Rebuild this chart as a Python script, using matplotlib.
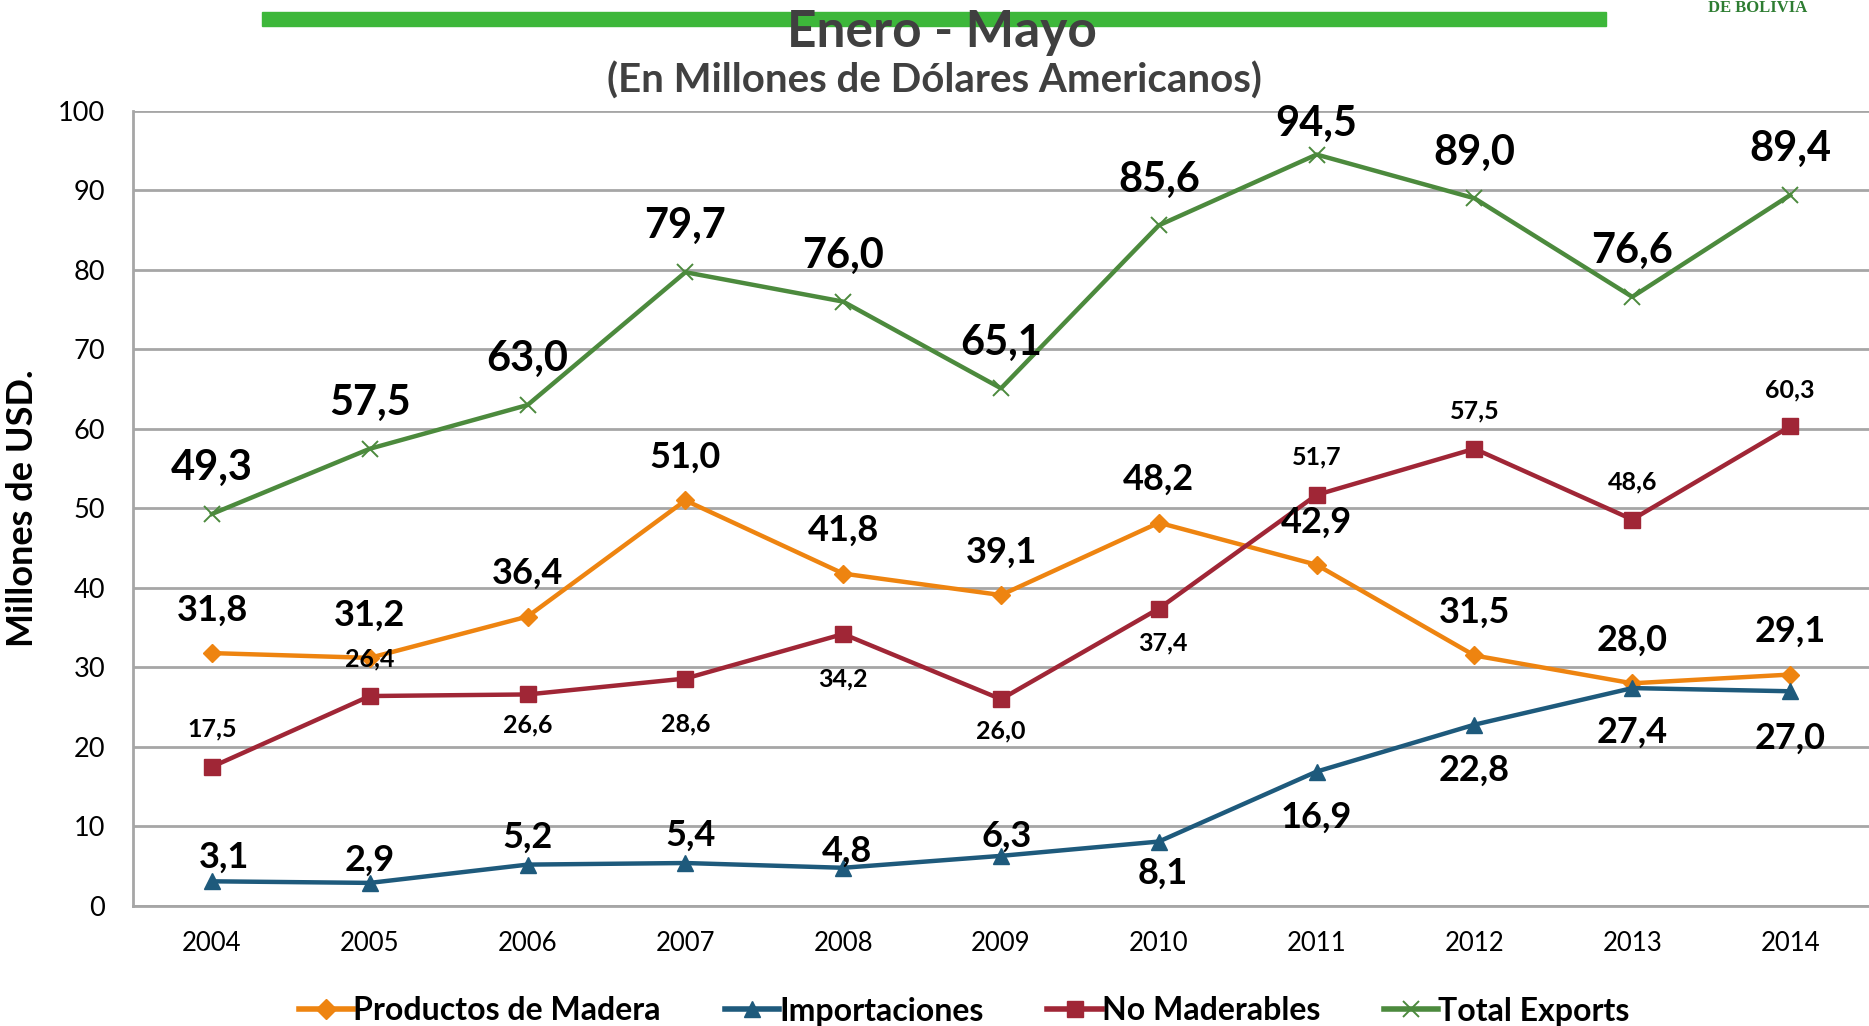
import matplotlib
matplotlib.use("Agg")
import matplotlib.pyplot as plt
from matplotlib.lines import Line2D

plt.rcParams['font.family'] = ['Lato', 'DejaVu Sans']

years = ['2004', '2005', '2006', '2007', '2008', '2009', '2010', '2011', '2012', '2013', '2014']
madera = [31.8, 31.2, 36.4, 51.0, 41.8, 39.1, 48.2, 42.9, 31.5, 28.0, 29.1]
importaciones = [3.1, 2.9, 5.2, 5.4, 4.8, 6.3, 8.1, 16.9, 22.8, 27.4, 27.0]
no_maderables = [17.5, 26.4, 26.6, 28.6, 34.2, 26.0, 37.4, 51.7, 57.5, 48.6, 60.3]
total = [49.3, 57.5, 63.0, 79.7, 76.0, 65.1, 85.6, 94.5, 89.0, 76.6, 89.4]

# label offsets (points) for each series
off_madera = [(0, 31)] * 11
off_imp = [(9, 17), (0, 16), (0, 20), (4, 20), (3, 12), (4, 14),
           (3, -23), (0, -33), (0, -33), (0, -32), (0, -34)]
off_nomad = [(0, 27), (0, 27), (0, -22), (0, -33), (0, -32), (0, -23),
             (3, -25), (0, 27), (0, 27), (0, 27), (0, 26)]
off_total = [(0, 33)] * 7 + [(0, 22)] + [(0, 33)] * 3

c_mad = '#EE8410'
c_imp = '#1E5A7C'
c_nom = '#A02636'
c_tot = '#4C8A3D'

fig = plt.figure(figsize=(18.69, 10.26), dpi=100)
ax = fig.add_axes([0.0712, 0.117, 0.9288, 0.775])
x = list(range(len(years)))

ax.plot(x, madera, color=c_mad, lw=3.2, marker='D', ms=9, zorder=3)
ax.plot(x, importaciones, color=c_imp, lw=3.2, marker='^', ms=12, zorder=3)
ax.plot(x, no_maderables, color=c_nom, lw=3.2, marker='s', ms=11, zorder=3)
ax.plot(x, total, color=c_tot, lw=3.2, marker='x', ms=11, mew=1.4, zorder=3)


def labels(vals, offs, size):
    for i, v in enumerate(vals):
        ax.annotate(f"{v:.1f}".replace('.', ','), (i, v), xytext=offs[i],
                    textcoords='offset points', ha='center', va='center',
                    fontsize=size, fontweight='bold', color='black', zorder=4)


labels(madera, off_madera, 26)
labels(importaciones, off_imp, 26)
labels(no_maderables, off_nomad, 18)
labels(total, off_total, 30)

ax.set_xlim(-0.5, len(years) - 0.5)
ax.set_ylim(0, 100)
ax.set_yticks(range(0, 101, 10))
ax.set_xticks(x)
ax.set_xticklabels(years)
ax.tick_params(axis='both', length=0, labelsize=18.5, colors='black')
ax.tick_params(axis='y', labelsize=19.5, pad=20)
ax.tick_params(axis='x', pad=18)
ax.yaxis.grid(True, color='#A6A6A6', lw=2)
ax.set_axisbelow(True)
for s in ['top', 'right']:
    ax.spines[s].set_visible(False)
for s in ['left', 'bottom']:
    ax.spines[s].set_color('#A6A6A6')
    ax.spines[s].set_linewidth(2)
ax.set_ylabel('Millones de USD.', fontsize=26, fontweight='bold', labelpad=14)

# header
fig.patches.append(plt.Rectangle((262 / 1869, 1 - 26 / 1026), 1344 / 1869, 14 / 1026,
                                 transform=fig.transFigure, color='#3DB73A', zorder=0))
fig.text(942 / 1869, 1 - 32 / 1026, 'Enero - Mayo', ha='center', va='center',
         fontsize=37, fontweight='bold', color='#404040')
fig.text(934 / 1869, 1 - 81 / 1026, '(En Millones de Dólares Americanos)', ha='center',
         va='center', fontsize=29, fontweight='bold', color='#404040')
fig.text(1758 / 1869, 1 - 8 / 1026, 'DE BOLIVIA', ha='center', va='center',
         fontsize=12, color='#2E7D32', family='Liberation Serif', fontweight='bold')

handles = [
    Line2D([], [], color=c_mad, lw=4, marker='D', ms=10),
    Line2D([], [], color=c_imp, lw=4, marker='^', ms=12),
    Line2D([], [], color=c_nom, lw=4, marker='s', ms=11),
    Line2D([], [], color=c_tot, lw=4, marker='x', ms=11, mew=1.4),
]
fig.legend(handles, ['Productos de Madera', 'Importaciones', 'No Maderables', 'Total Exports'],
           loc='center', bbox_to_anchor=(0.516, 1 - 1011 / 1026), ncol=4, frameon=False,
           prop={'size': 23, 'weight': 'bold'}, handlelength=1.7, handletextpad=0.0,
           columnspacing=2.0)

fig.savefig('out.png', dpi=100)
